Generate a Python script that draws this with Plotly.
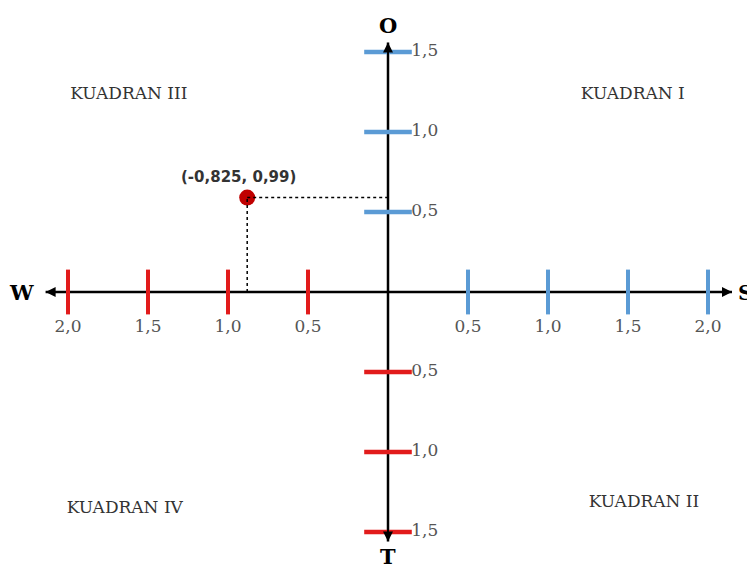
import plotly.graph_objects as go

# ---- data ----
x_pos_ticks = [0.5, 1.0, 1.5, 2.0]
x_neg_ticks = [-0.5, -1.0, -1.5, -2.0]
y_pos_ticks = [0.5, 1.0, 1.5]
y_neg_ticks = [-0.5, -1.0, -1.5]
x_pos_labels = ["0,5", "1,0", "1,5", "2,0"]
x_neg_labels = ["0,5", "1,0", "1,5", "2,0"]
y_pos_labels = ["0,5", "1,0", "1,5"]
y_neg_labels = ["0,5", "1,0", "1,5"]
point_x = [-0.88]
point_y = [0.59]
point_label = ["(-0,825, 0,99)"]
quadrant_names = ["KUADRAN I", "KUADRAN II", "KUADRAN III", "KUADRAN IV"]
quadrant_x = [1.53, 1.6, -1.62, -1.645]
quadrant_y = [1.23, -1.32, 1.23, -1.355]
direction_names = ["O", "S", "T", "W"]

BLUE = "#5b9bd5"
RED = "#e21b1b"
SERIF = "DejaVu Serif, Liberation Serif, serif"
LBL = "#555555"

# page body has an 8px default margin; figure sized to fit without scrollbars,
# ranges compensate so origin lands at (388, 292) in the window
W, H = 747, 565
xr = [-380 / 160, (W - 380) / 160]
yr = [-(H - 284) / 160, 284 / 160]
x_tip = [-2.14, 2.15]
y_tip = [-1.56, 1.56]

fig = go.Figure()

# axis lines
fig.add_shape(type="line", x0=x_tip[0], x1=x_tip[1], y0=0, y1=0,
              line=dict(color="black", width=2.5), layer="below")
fig.add_shape(type="line", x0=0, x1=0, y0=y_tip[0], y1=y_tip[1],
              line=dict(color="black", width=2.5), layer="below")

# arrowheads
for (tx, ty, fx, fy) in [(x_tip[1], 0, x_tip[1] - 0.1, 0), (x_tip[0], 0, x_tip[0] + 0.1, 0),
                         (0, y_tip[1], 0, y_tip[1] - 0.1), (0, y_tip[0], 0, y_tip[0] + 0.1)]:
    fig.add_annotation(x=tx, y=ty, ax=fx, ay=fy, xref="x", yref="y", axref="x", ayref="y",
                       showarrow=True, arrowhead=2, arrowsize=1, arrowwidth=2,
                       arrowcolor="black", text="")

# dotted guide lines
fig.add_shape(type="line", x0=point_x[0], x1=point_x[0], y0=0, y1=point_y[0],
              line=dict(color="black", width=1.5, dash="dot"))
fig.add_shape(type="line", x0=point_x[0], x1=0, y0=point_y[0], y1=point_y[0],
              line=dict(color="black", width=1.5, dash="dot"))

# x-axis ticks
fig.add_trace(go.Scatter(x=x_pos_ticks, y=[0] * len(x_pos_ticks), mode="markers",
                         marker=dict(symbol="line-ns", size=32, line=dict(color=BLUE, width=4)),
                         hoverinfo="skip"))
fig.add_trace(go.Scatter(x=x_neg_ticks, y=[0] * len(x_neg_ticks), mode="markers",
                         marker=dict(symbol="line-ns", size=32, line=dict(color=RED, width=4)),
                         hoverinfo="skip"))
# y-axis ticks
fig.add_trace(go.Scatter(x=[0] * len(y_pos_ticks), y=y_pos_ticks, mode="markers",
                         marker=dict(symbol="line-ew", size=34, line=dict(color=BLUE, width=4.5)),
                         hoverinfo="skip"))
fig.add_trace(go.Scatter(x=[0] * len(y_neg_ticks), y=y_neg_ticks, mode="markers",
                         marker=dict(symbol="line-ew", size=34, line=dict(color=RED, width=4.5)),
                         hoverinfo="skip"))

# tick labels
fig.add_trace(go.Scatter(x=x_pos_ticks + x_neg_ticks, y=[-0.225] * 8, mode="text",
                         text=x_pos_labels + x_neg_labels,
                         textfont=dict(family=SERIF, size=17, color=LBL), hoverinfo="skip"))
fig.add_trace(go.Scatter(x=[0.145] * 6, y=y_pos_ticks + y_neg_ticks, mode="text",
                         text=y_pos_labels + y_neg_labels, textposition="middle right",
                         textfont=dict(family=SERIF, size=17, color=LBL), hoverinfo="skip"))

# point
fig.add_trace(go.Scatter(x=point_x, y=point_y, mode="markers",
                         marker=dict(color="#c00000", size=16), hoverinfo="skip"))
fig.add_annotation(x=point_x[0], y=point_y[0], xref="x", yref="y",
                   text="<b>" + point_label[0] + "</b>", showarrow=False,
                   xshift=-9, yshift=21,
                   font=dict(family="DejaVu Sans, sans-serif", size=15, color="#333333"))

# quadrant labels
fig.add_trace(go.Scatter(x=quadrant_x, y=quadrant_y, mode="text", text=quadrant_names,
                         textfont=dict(family=SERIF, size=17, color="#333333"), hoverinfo="skip"))

# direction letters
dir_x = [0, 2.18, 0, -2.29]
dir_y = [y_tip[1] + 0.105, 0, y_tip[0] - 0.09, 0]
for name, dx, dy in zip(direction_names, dir_x, dir_y):
    fig.add_annotation(x=dx, y=dy, xref="x", yref="y", text=f"<b>{name}</b>", showarrow=False,
                       xanchor="left" if name == "S" else "center", borderpad=0,
                       font=dict(family=SERIF, size=21, color="black"))

fig.update_layout(
    width=W, height=H, margin=dict(l=0, r=0, t=0, b=0),
    paper_bgcolor="white", plot_bgcolor="white", showlegend=False,
    xaxis=dict(range=xr, visible=False, fixedrange=True),
    yaxis=dict(range=yr, visible=False, fixedrange=True),
)

fig.write_html("out.html")
